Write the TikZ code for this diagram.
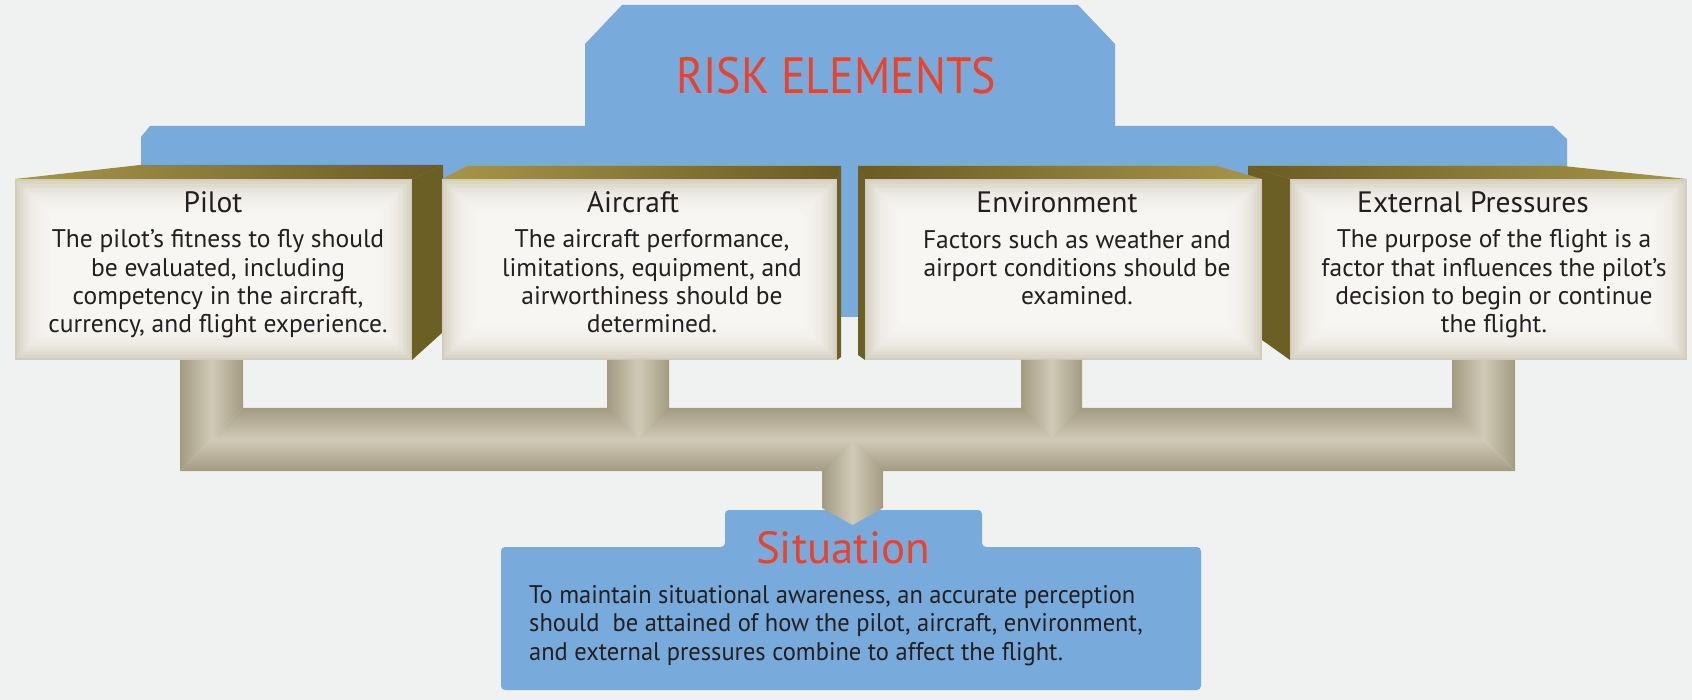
\documentclass[tikz,border=0pt]{standalone}
\usepackage{fontspec}
\setmainfont{PT Sans}
\newfontfamily\condfont[FakeStretch=0.9]{PT Sans}
\newfontfamily\sitfont[FakeStretch=0.96]{PT Sans}
\usetikzlibrary{calc}
\definecolor{bgc}{HTML}{F0F1F1}
\definecolor{blueband}{HTML}{78ABDB}
\definecolor{redtxt}{HTML}{E8432D}
\definecolor{txt}{HTML}{231F20}
\definecolor{faceE}{HTML}{D2CDBD}
\definecolor{faceC}{HTML}{FCFBF8}
\definecolor{goldL}{HTML}{A8954A}
\definecolor{goldD}{HTML}{6A5C22}
\definecolor{sideC}{HTML}{6C5F24}
\definecolor{tubeD}{HTML}{A39B81}
\definecolor{tubeL}{HTML}{D1CAB6}
\newcommand{\glowface}[1]{%
  \foreach \i in {1,...,14}{%
    \fill[faceC, opacity=0.18] ($(#1.north west)+(\i*2.6,\i*2.6)$) rectangle ($(#1.south east)-(\i*2.6,\i*2.6)$);}}
\begin{document}
\begin{tikzpicture}[x=1pt,y=-1pt,
  facebox/.style={fill=faceE, inner sep=0pt, minimum height=181pt},
  titlef/.style={text=txt, inner sep=0pt, anchor=base, font=\fontsize{29.5}{32}\selectfont},
  bodyf/.style={text=txt, inner sep=0pt, anchor=base, align=center, font=\fontsize{25.5}{28.4}\selectfont},
  tubeV/.style={left color=tubeD, right color=tubeD, middle color=tubeL},
  tubeH/.style={top color=tubeD, bottom color=tubeD, middle color=tubeL},
  goldLR/.style={left color=goldL, right color=goldD},
  goldRL/.style={left color=goldD, right color=goldL}]
\useasboundingbox (0,0) rectangle (1692,700);
\fill[bgc] (0,0) rectangle (1692,700);
% blue header
\fill[blueband] (585,44) -- (622,5) -- (1078,5) -- (1115,44) -- (1115,126) -- (1553,126) -- (1567,139) -- (1567,200) -- (1115,200) -- (1115,317) -- (585,317) -- (585,200) -- (141,200) -- (141,137) -- (150,126) -- (585,126) -- cycle;
\node[text=redtxt, inner sep=0pt, anchor=base, font=\condfont\fontsize{51}{55}\selectfont] (risk) at (836,94) {RISK ELEMENTS};
% External Pressures box
\fill[sideC] (1248,166) -- (1290,179) -- (1290,360) -- (1248,330) -- cycle;
\shade[goldRL] (1248,166) -- (1563,166) -- (1687,179) -- (1290,179) -- cycle;
\node[facebox, minimum width=397pt] (extf) at (1488.5,269.5) {};
\glowface{extf}
% Pilot box
\fill[sideC] (412,179) -- (443,165) -- (443,332) -- (412,360) -- cycle;
\shade[goldLR] (15,179) -- (140,165) -- (443,165) -- (412,179) -- cycle;
\node[facebox, minimum width=397pt] (pilotf) at (213.5,269.5) {};
\glowface{pilotf}
% Aircraft box
\fill[sideC] (837,179) -- (841,166) -- (841,357) -- (837,360) -- cycle;
\shade[goldLR] (442,179) -- (467,166) -- (841,166) -- (837,179) -- cycle;
\node[facebox, minimum width=395pt] (aircf) at (639.5,269.5) {};
\glowface{aircf}
% Environment box
\fill[sideC] (858,166) -- (865,179) -- (865,360) -- (858,355) -- cycle;
\shade[goldRL] (858,166) -- (1217,166) -- (1262,179) -- (865,179) -- cycle;
\node[facebox, minimum width=397pt] (envf) at (1063.5,269.5) {};
\glowface{envf}
% texts (base anchor = last line's baseline)
\node[titlef] (pilott) at (213,213) {Pilot};
\node[bodyf] (pilotb) at (218,333) {The pilot’s fitness to fly should\\be evaluated, including\\competency in the aircraft,\\currency, and flight experience.};
\node[titlef] (airct) at (633,213) {Aircraft};
\node[bodyf] (aircb) at (652,333) {The aircraft performance,\\limitations, equipment, and\\airworthiness should be\\determined.};
\node[titlef] (envt) at (1057,213) {Environment};
\node[bodyf] (envb) at (1077,305) {Factors such as weather and\\airport conditions should be\\examined.};
\node[titlef] (extt) at (1473,213) {External Pressures};
\node[bodyf] (extb) at (1494,333) {The purpose of the flight is a\\factor that influences the pilot’s\\decision to begin or continue\\the flight.};
% connector tubes
\coordinate (barTL) at (243,408);
\coordinate (barTR) at (1452,408);
\coordinate (barBL) at (180,471);
\coordinate (barBR) at (1515,471);
\shade[tubeH] (barBL) -- (barTL) -- (barTR) -- (barBR) -- cycle;
\shade[tubeV] (pilotf.south -| barBL) -- (pilotf.south -| barTL) -- (barTL) -- (barBL) -- cycle;
\shade[tubeV] (extf.south -| barTR) -- (extf.south -| barBR) -- (barBR) -- (barTR) -- cycle;
\shade[tubeV] (607,360) -- (669,360) -- (669,408) -- (638,439) -- (607,408) -- cycle;
\shade[tubeV] (1021,360) -- (1082,360) -- (1082,408) -- (1051.5,438.5) -- (1021,408) -- cycle;
% Situation
\fill[blueband, rounded corners=4pt] (501,547) -- (725,547) -- (725,510) -- (982,510) -- (982,547) -- (1201,547) -- (1201,690) -- (501,690) -- cycle;
\coordinate (sitin) at (852.5,525);
\shade[tubeV] (822,471) -- (852.5,440.5) -- (883,471) -- (883,508) -- (sitin) -- (822,508) -- cycle;
\node[text=redtxt, inner sep=0pt, anchor=base, font=\fontsize{45}{49}\selectfont] (sitt) at (843,563) {Situation};
\node[text=txt, inner sep=0pt, anchor=base west, align=left, font=\sitfont\fontsize{25.5}{28.5}\selectfont] (sitb) at (529,660) {To maintain situational awareness, an accurate perception\\should\ \ be attained of how the pilot, aircraft, environment,\\and external pressures combine to affect the flight.};
\end{tikzpicture}
\end{document}
